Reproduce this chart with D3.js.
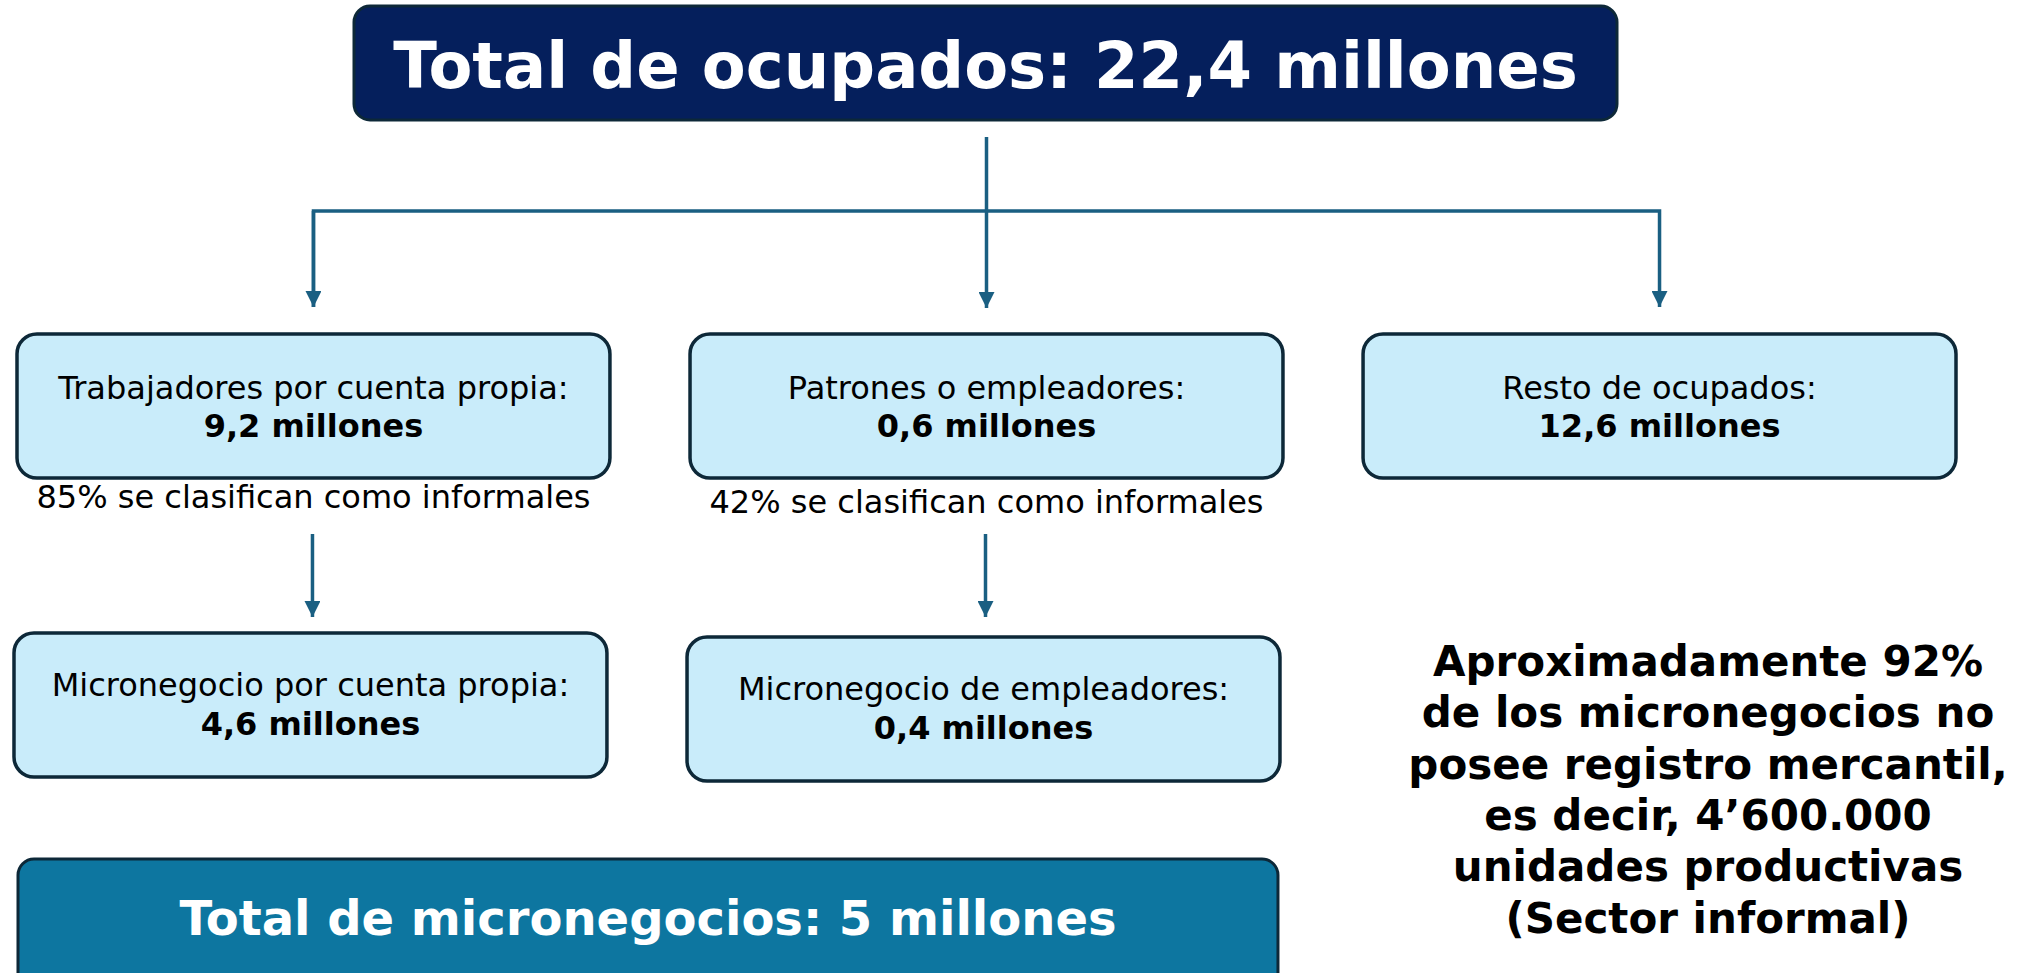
<!DOCTYPE html>
<html>
<head>
<meta charset="utf-8">
<script src="https://cdn.jsdelivr.net/npm/d3@7"></script>
<style>
  html, body { margin: 0; padding: 0; background: #fff; }
  svg text { font-family: "DejaVu Sans", Verdana, sans-serif; }
</style>
</head>
<body>
<div id="canvas"></div>
<script>
// data
const topLabel = "Total de ocupados";
const topValue = "22,4";
const groupLabels = ["Trabajadores por cuenta propia", "Patrones o empleadores", "Resto de ocupados"];
const groupValues = ["9,2", "0,6", "12,6"];
const informalShares = ["85%", "42%"];
const microLabels = ["Micronegocio por cuenta propia", "Micronegocio de empleadores"];
const microValues = ["4,6", "0,4"];
const totalMicroLabel = "Total de micronegocios";
const totalMicroValue = "5";
const noteLines = [
  "Aproximadamente 92%",
  "de los micronegocios no",
  "posee registro mercantil,",
  "es decir, 4\u2019600.000",
  "unidades productivas",
  "(Sector informal)"
];

const width = 2028;
const height = 973;

const navy = "#051f5c";
const lightBlue = "#c9ecfa";
const teal = "#0d76a0";
const border = "#0d2838";
const arrowCol = "#1a5f82";

const canvas = d3.select("#canvas");
const svg = canvas.append("svg").attr("width", width).attr("height", height);

svg.append("defs").append("marker")
  .attr("id", "head")
  .attr("viewBox", "0 0 16 16")
  .attr("refX", 16).attr("refY", 8)
  .attr("markerWidth", 16).attr("markerHeight", 16)
  .attr("markerUnits", "userSpaceOnUse")
  .attr("orient", "auto")
  .append("path")
  .attr("d", "M0,0 L16,8 L0,16 Z")
  .attr("fill", arrowCol);

// columns
const x = d3.scaleBand()
  .domain(groupLabels)
  .range([17, 1956])
  .paddingInner(0.119);
const cx = (d) => x(d) + x.bandwidth() / 2;

// rows
const row = {
  top: [6, 120],
  joint: 211,
  group: [334, 478],
  micro: [635, 779],
  total: [859, 990]
};

// title box
const titleX = [354, 1617];
svg.append("rect")
  .attr("x", titleX[0]).attr("y", row.top[0])
  .attr("width", titleX[1] - titleX[0]).attr("height", row.top[1] - row.top[0])
  .attr("rx", 16)
  .attr("fill", navy).attr("stroke", border).attr("stroke-width", 3);
svg.append("text")
  .attr("x", (titleX[0] + titleX[1]) / 2).attr("y", 88)
  .attr("text-anchor", "middle")
  .attr("fill", "#fff").attr("font-weight", "bold").attr("font-size", 64)
  .text(`${topLabel}: ${topValue} millones`);

// connectors
const line = d3.line();
const mid = groupLabels[1];
svg.append("path")
  .attr("d", line([[cx(groupLabels[0]), 307], [cx(groupLabels[0]), row.joint], [cx(groupLabels[2]), row.joint], [cx(groupLabels[2]), 307]]))
  .attr("fill", "none").attr("stroke", arrowCol).attr("stroke-width", 3.5)
  .attr("marker-end", "url(#head)");
svg.append("path")
  .attr("d", line([[cx(groupLabels[0]), row.joint], [cx(groupLabels[0]), 307]]))
  .attr("fill", "none").attr("stroke", arrowCol).attr("stroke-width", 3.5)
  .attr("marker-end", "url(#head)");
svg.append("path")
  .attr("d", line([[cx(mid), 137], [cx(mid), 308]]))
  .attr("fill", "none").attr("stroke", arrowCol).attr("stroke-width", 3.5)
  .attr("marker-end", "url(#head)");

// group boxes
const groups = svg.selectAll(".group")
  .data(groupLabels)
  .enter()
  .append("g")
  .attr("class", "group");

groups.append("rect")
  .attr("x", (d) => x(d)).attr("y", row.group[0])
  .attr("width", x.bandwidth()).attr("height", row.group[1] - row.group[0])
  .attr("rx", 20)
  .attr("fill", lightBlue).attr("stroke", border).attr("stroke-width", 3.5);

groups.append("text")
  .attr("x", cx).attr("y", 399)
  .attr("text-anchor", "middle").attr("font-size", 32).attr("fill", "#000")
  .text((d) => d + ":");

groups.append("text")
  .attr("x", cx).attr("y", 437)
  .attr("text-anchor", "middle").attr("font-size", 32).attr("font-weight", "bold").attr("fill", "#000")
  .text((d, i) => groupValues[i] + " millones");

// informal share notes + arrows down
const informal = groupLabels.slice(0, informalShares.length);
svg.selectAll(".share")
  .data(informal)
  .enter()
  .append("text")
  .attr("class", "share")
  .attr("x", cx).attr("y", (d, i) => 508 + i * 5)
  .attr("text-anchor", "middle").attr("font-size", 32).attr("fill", "#000")
  .text((d, i) => `${informalShares[i]} se clasifican como informales`);

svg.selectAll(".down")
  .data(informal)
  .enter()
  .append("path")
  .attr("class", "down")
  .attr("d", (d) => line([[cx(d) - 1, 534], [cx(d) - 1, 617]]))
  .attr("fill", "none").attr("stroke", arrowCol).attr("stroke-width", 3.5)
  .attr("marker-end", "url(#head)");

// micro business boxes
const micro = svg.selectAll(".micro")
  .data(informal)
  .enter()
  .append("g")
  .attr("class", "micro");

micro.append("rect")
  .attr("x", (d) => x(d) - 3).attr("y", (d, i) => row.micro[0] - 2 + i * 4)
  .attr("width", x.bandwidth()).attr("height", row.micro[1] - row.micro[0])
  .attr("rx", 20)
  .attr("fill", lightBlue).attr("stroke", border).attr("stroke-width", 3.5);

micro.append("text")
  .attr("x", (d) => cx(d) - 3).attr("y", (d, i) => 696 + i * 4)
  .attr("text-anchor", "middle").attr("font-size", 32).attr("fill", "#000")
  .text((d, i) => microLabels[i] + ":");

micro.append("text")
  .attr("x", (d) => cx(d) - 3).attr("y", (d, i) => 735 + i * 4)
  .attr("text-anchor", "middle").attr("font-size", 32).attr("font-weight", "bold").attr("fill", "#000")
  .text((d, i) => microValues[i] + " millones");

// total micro box
const totX = [x(groupLabels[0]) + 1, x(groupLabels[1]) + x.bandwidth() - 5];
svg.append("rect")
  .attr("x", totX[0]).attr("y", row.total[0])
  .attr("width", totX[1] - totX[0]).attr("height", row.total[1] - row.total[0])
  .attr("rx", 16)
  .attr("fill", teal).attr("stroke", border).attr("stroke-width", 3);
svg.append("text")
  .attr("x", (totX[0] + totX[1]) / 2).attr("y", 935)
  .attr("text-anchor", "middle")
  .attr("fill", "#fff").attr("font-weight", "bold").attr("font-size", 48)
  .text(`${totalMicroLabel}: ${totalMicroValue} millones`);

// side note
svg.append("text")
  .attr("x", 1708)
  .attr("text-anchor", "middle").attr("font-size", 42).attr("font-weight", "bold").attr("fill", "#000")
  .selectAll("tspan")
  .data(noteLines)
  .enter()
  .append("tspan")
  .attr("x", 1708)
  .attr("y", (d, i) => 676 + i * 51.3)
  .text((d) => d);
</script>
</body>
</html>
